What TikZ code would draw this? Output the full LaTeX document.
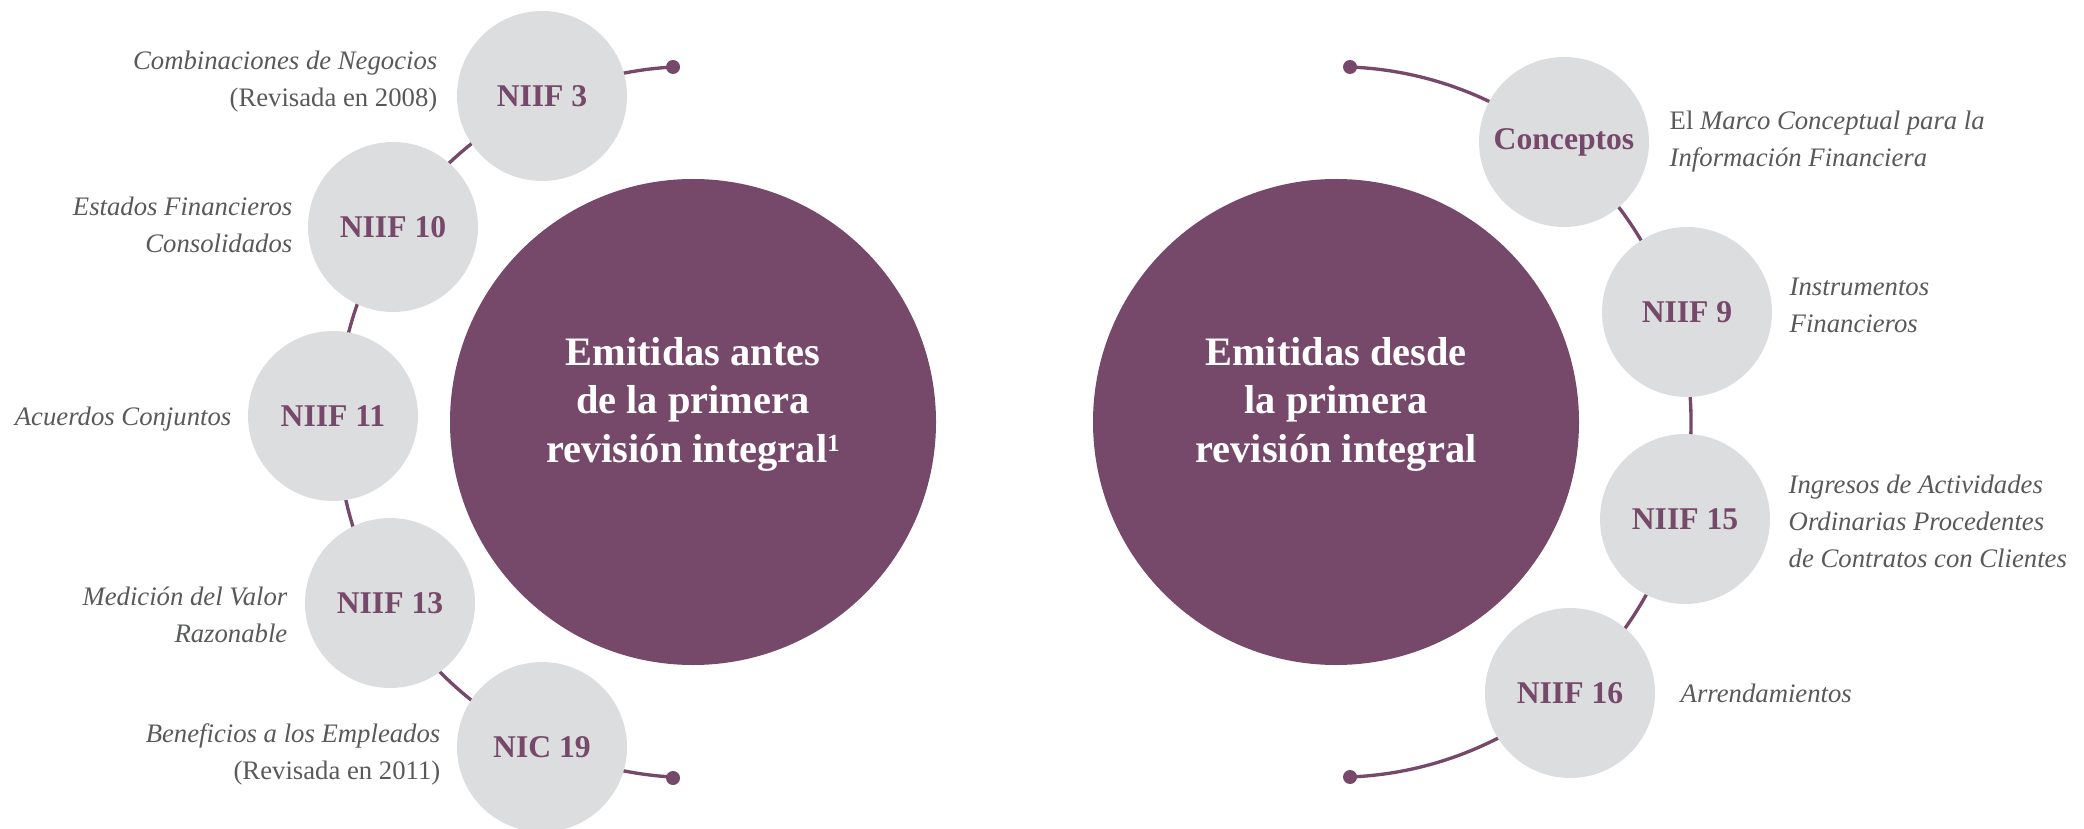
\documentclass[tikz,border=0pt]{standalone}
\usepackage{fontspec}
\setmainfont{Liberation Serif}
\usepackage{tikz}
\definecolor{ciruela}{RGB}{118,72,105}
\definecolor{grisc}{RGB}{220,221,223}
\definecolor{grist}{RGB}{88,89,91}

\begin{document}
\begin{tikzpicture}[
  big/.style={circle, fill=ciruela, minimum size=4.86cm, inner sep=0pt},
  bigtext/.style={text=white, align=center, font=\fontsize{11.5}{13.8}\selectfont\bfseries},
  small/.style={circle, fill=grisc, minimum size=1.7cm, inner sep=0pt, text=ciruela, font=\fontsize{9}{11}\selectfont\bfseries},
  arcline/.style={ciruela, line width=0.95pt},
  dot/.style={circle, fill=ciruela, inner sep=0pt, minimum size=0.14cm},
  desc/.style={text=grist, inner sep=0pt, font=\fontsize{7.6}{10.5}\selectfont\itshape}
]
\useasboundingbox (0,0) rectangle (20.84,8.28);
%\draw (0,0) rectangle (20.84,8.28);
\node [big] (antes) at (6.93,4.06) {};
\node [big] (desde) at (13.36,4.06) {};
\node [bigtext] (antes-txt) at (6.93,4.24) {Emitidas antes\\de la primera\\revisión integral\raisebox{0.55ex}{\fontsize{7}{7}\selectfont 1}};
\node [bigtext] (desde-txt) at (13.36,4.24) {Emitidas desde\\la primera\\revisión integral};
% extremos de los arcos
\node [dot] (a-top) at (6.73,7.61) {};
\node [dot] (a-bot) at (6.73,0.50) {};
\node [dot] (d-top) at (13.50,7.61) {};
\node [dot] (d-bot) at (13.50,0.51) {};
\draw [arcline] (a-top.center) arc [start angle=93.2, end angle=266.8, radius=3.556];
\draw [arcline] (d-top.center) arc [start angle=87.7, end angle=-87.7, radius=3.553];
% normas antes
\node [small] (niif3) at (5.42,7.32) {NIIF 3};
\node [small] (niif10) at (3.93,6.01) {NIIF 10};
\node [small] (niif11) at (3.33,4.12) {NIIF 11};
\node [small] (niif13) at (3.90,2.25) {NIIF 13};
\node [small] (nic19) at (5.42,0.81) {NIC 19};
\node [desc, anchor=east, align=right] (l-niif3) at (4.38,7.46) {Combinaciones de Negocios\\\upshape(Revisada en 2008)};
\node [desc, anchor=east, align=right] (l-niif10) at (2.93,6.03) {Estados Financieros\\Consolidados};
\node [desc, anchor=east, align=right] (l-niif11) at (2.32,4.09) {Acuerdos Conjuntos};
\node [desc, anchor=east, align=right] (l-niif13) at (2.88,2.13) {Medición del Valor\\Razonable};
\node [desc, anchor=east, align=right] (l-nic19) at (4.41,0.74) {Beneficios a los Empleados\\\upshape(Revisada en 2011)};
% normas desde
\node [small] (conc) at (15.64,6.86) {Conceptos};
\node [small] (niif9) at (16.87,5.16) {NIIF 9};
\node [small] (niif15) at (16.85,3.09) {NIIF 15};
\node [small] (niif16) at (15.70,1.35) {NIIF 16};
\node [desc, anchor=west, align=left] (l-conc) at (16.69,6.86) {{\upshape El} Marco Conceptual para la\\Información Financiera};
\node [desc, anchor=west, align=left] (l-niif9) at (17.89,5.23) {Instrumentos\\Financieros};
\node [desc, anchor=west, align=left] (l-niif15) at (17.88,3.07) {Ingresos de Actividades\\Ordinarias Procedentes\\de Contratos con Clientes};
\node [desc, anchor=west, align=left] (l-niif16) at (16.80,1.35) {Arrendamientos};
\end{tikzpicture}
\end{document}
